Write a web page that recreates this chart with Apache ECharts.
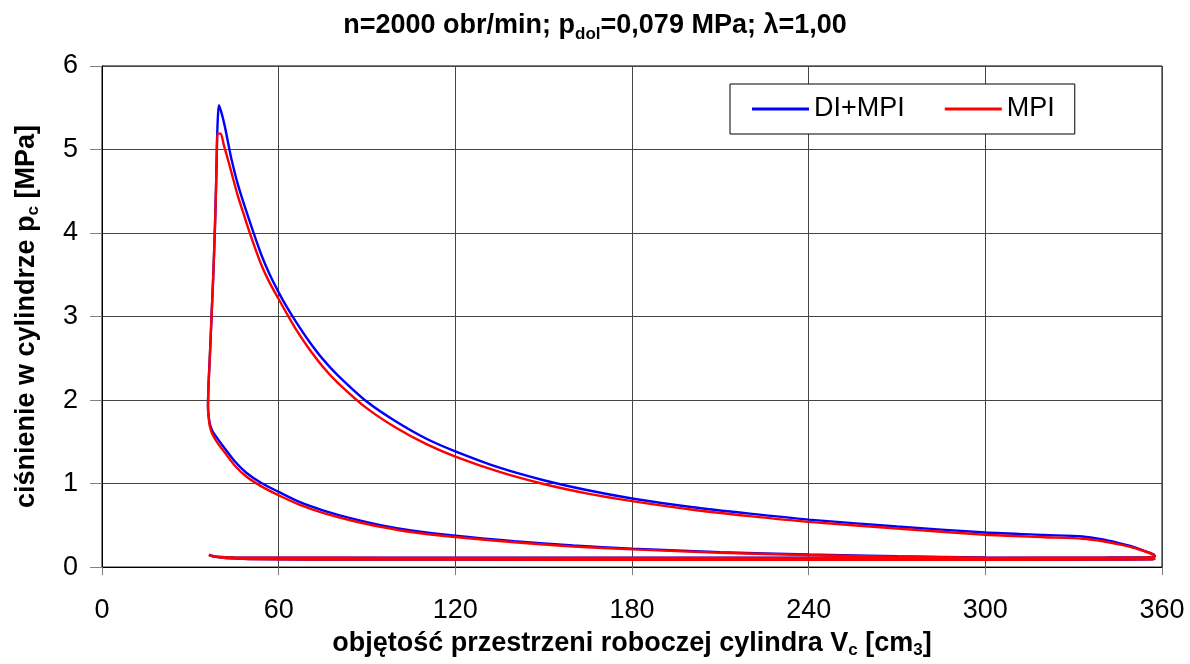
<!DOCTYPE html>
<html>
<head>
<meta charset="utf-8">
<script src="https://cdn.jsdelivr.net/npm/echarts@6/dist/echarts.min.js"></script>
<style>
html,body{margin:0;padding:0;background:#fff;}
#c{width:1190px;height:664px;}
</style>
</head>
<body>
<div id="c"></div>
<script>
// ---- data (volume cm3, pressure MPa) ----
const xTicks = [0, 60, 120, 180, 240, 300, 360];
const yTicks = [0, 1, 2, 3, 4, 5, 6];
const seriesNames = ['DI+MPI', 'MPI'];

// DI+MPI: intake -> compression -> combustion -> expansion -> exhaust
const diVol = [36.3,38,42,50,70,120,200,280,340,356,
  357.5,345,330,300,270,240,210,180,160,140,120,105,95,85,75,67,60,54,49,45,41.5,39,37.5,36.6,36.2,36.0,
  36.2,36.6,37.2,37.8,38.3,38.7,39.0,39.3,39.7,
  40.5,41.7,43,44,46,48,51.5,54.1,57,60,63,66,70,75,80,90,100,110,120,135,150,165,180,200,220,240,270,300,320,333,340,345,350,354,357,357.6,
  355,340,300,250,200,150,100,60,45,39,36.3];
const diPres = [0.145,0.125,0.108,0.097,0.091,0.089,0.088,0.088,0.089,0.093,
  0.1,0.102,0.106,0.115,0.13,0.15,0.178,0.221,0.258,0.31,0.375,0.44,0.5,0.58,0.68,0.78,0.9,1.01,1.13,1.27,1.43,1.55,1.63,1.72,1.82,1.93,
  2.2,2.5,3.0,3.5,4.0,4.5,5.0,5.35,5.53,
  5.45,5.28,5.05,4.88,4.6,4.37,4.0,3.74,3.5,3.29,3.1,2.93,2.72,2.49,2.3,1.98,1.74,1.54,1.386,1.19,1.04,0.92,0.822,0.72,0.64,0.569,0.486,0.415,0.385,0.367,0.33,0.29,0.245,0.195,0.155,0.13,
  0.117,0.114,0.112,0.112,0.112,0.112,0.112,0.113,0.116,0.125,0.145];

// MPI
const mpiVol = [36.3,38,42,50,70,120,200,280,340,356,
  357.5,345,330,300,270,240,210,180,160,140,120,105,95,85,75,67,60,54,49,45,41.5,39,37.5,36.6,36.2,36.0,
  36.2,36.6,37.2,37.8,38.3,38.7,39.0,39.2,40.3,
  41.4,43,44,46,48,50.2,54,57,60,63,66,70,75,80,90,100,110,120,135,150,165,180,200,220,240,270,300,320,333,340,345,350,354,357,357.6,
  355,340,300,250,200,150,100,60,45,39,36.3];
const mpiPres = [0.145,0.125,0.108,0.097,0.09,0.089,0.088,0.088,0.089,0.093,
  0.1,0.1,0.104,0.112,0.126,0.145,0.172,0.212,0.247,0.297,0.36,0.42,0.48,0.555,0.65,0.748,0.86,0.97,1.085,1.22,1.38,1.5,1.59,1.69,1.8,1.9,
  2.2,2.5,3.0,3.5,4.0,4.5,4.95,5.19,5.19,
  5.05,4.85,4.72,4.46,4.24,4.0,3.63,3.4,3.21,3.02,2.84,2.63,2.4,2.21,1.9,1.665,1.475,1.323,1.14,0.995,0.88,0.79,0.69,0.61,0.541,0.462,0.387,0.358,0.34,0.31,0.275,0.235,0.19,0.15,0.128,
  0.116,0.113,0.111,0.11,0.11,0.11,0.111,0.112,0.115,0.124,0.145];

function zip(a, b) { return a.map((v, i) => [v, b[i]]); }

const FONT = '"Liberation Sans", Arial, sans-serif';
const chart = echarts.init(document.getElementById('c'), null, {renderer: 'canvas'});

const subStyle = (fs, lh) => ({ fontFamily: FONT, fontSize: fs, fontWeight: 'bold', color: '#000', lineHeight: lh, verticalAlign: 'bottom' });

chart.setOption({
  animation: false,
  backgroundColor: '#fff',
  title: {
    text: 'n=2000 obr/min; p{s|dol}=0,079 MPa; λ=1,00',
    left: 'center',
    top: 9,
    padding: 0,
    textStyle: {
      fontFamily: FONT, fontSize: 27, fontWeight: 'bold', color: '#000', lineHeight: 34,
      rich: { s: subStyle(17, 18) }
    }
  },
  legend: {
    data: seriesNames,
    left: 730, top: 84,
    orient: 'horizontal',
    icon: 'rect',
    itemWidth: 57, itemHeight: 3,
    itemGap: 40,
    padding: [11, 20, 11, 22],
    borderColor: '#000', borderWidth: 1,
    backgroundColor: '#fff',
    textStyle: { fontFamily: FONT, fontSize: 27, color: '#000', lineHeight: 28 }
  },
  grid: {
    left: 102, right: 28, top: 66, bottom: 91,
    show: true, borderColor: '#000', borderWidth: 1, backgroundColor: 'transparent'
  },
  xAxis: {
    type: 'value', min: xTicks[0], max: xTicks[xTicks.length - 1], interval: 60,
    axisLine: { lineStyle: { color: '#000', width: 1 } },
    axisTick: { show: true, inside: false, length: 8, lineStyle: { color: '#808080' } },
    axisLabel: { fontFamily: FONT, fontSize: 27, color: '#000', margin: 30 },
    splitLine: { show: true, lineStyle: { color: '#444', width: 1 } },
    name: 'objętość przestrzeni roboczej cylindra V{s|c} [cm{s|3}]',
    nameLocation: 'middle', nameGap: 60,
    nameTextStyle: {
      fontFamily: FONT, fontSize: 27, fontWeight: 'bold', color: '#000', lineHeight: 30,
      rich: { s: subStyle(17, 16) }
    }
  },
  yAxis: {
    type: 'value', min: yTicks[0], max: yTicks[yTicks.length - 1], interval: 1,
    axisLine: { show: true, lineStyle: { color: '#000', width: 1 } },
    axisTick: { show: true, inside: false, length: 12, lineStyle: { color: '#808080' } },
    axisLabel: { fontFamily: FONT, fontSize: 27, color: '#000', margin: 24 },
    splitLine: { show: true, lineStyle: { color: '#444', width: 1 } },
    name: 'ciśnienie w cylindrze p{s|c} [MPa]',
    nameLocation: 'middle', nameGap: 60, nameRotate: 90,
    nameTextStyle: {
      fontFamily: FONT, fontSize: 27, fontWeight: 'bold', color: '#000', lineHeight: 30,
      rich: { s: subStyle(17, 16) }
    }
  },
  series: [
    {
      name: seriesNames[0], type: 'line', data: zip(diVol, diPres),
      showSymbol: false, smooth: 0.25, color: '#0000ff',
      lineStyle: { color: '#0000ff', width: 2.4 }, z: 2
    },
    {
      name: seriesNames[1], type: 'line', data: zip(mpiVol, mpiPres),
      showSymbol: false, smooth: 0.25, color: '#ff0000',
      lineStyle: { color: '#ff0000', width: 2.4 }, z: 3
    }
  ]
});
</script>
</body>
</html>
